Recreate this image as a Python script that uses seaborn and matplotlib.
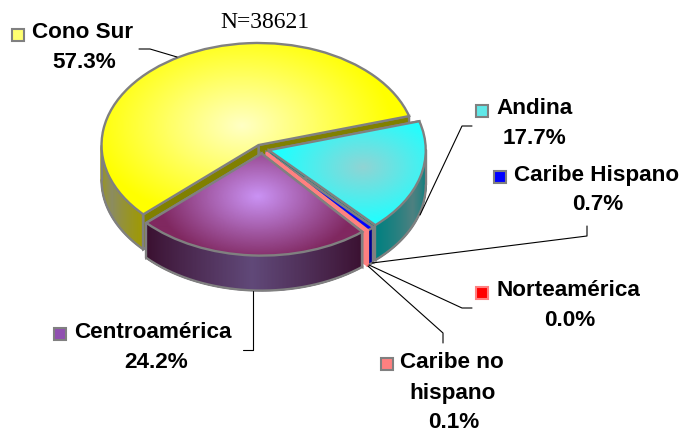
import matplotlib
matplotlib.use("Agg")
import matplotlib.pyplot as plt
import matplotlib.patches as mpatches
import numpy as np
import seaborn as sns

regions = ["Cono Sur", "Centroamérica", "Norteamérica", "Caribe no\nhispano", "Caribe Hispano", "Andina"]
shares = [57.3, 24.2, 0.0, 0.1, 0.7, 17.7]
total_n = 38621

# style per region, same order as above
face_edge = ["#FFFF00", "#802860", "#FF0000", "#FF8080", "#0000FF", "#20FFFF"]
face_mid = ["#FFFFC4", "#CA92F4", "#FF0000", "#FF8080", "#0000FF", "#90D4D4"]
wall_end = ["#A09A00", "#3A1030", "#800000", "#FF8080", "#000090", "#008080"]
wall_mid = ["#8C8C60", "#604878", "#800000", "#FF8080", "#000090", "#4E8080"]
cut_color = ["#808000", "#3A1030", "#800000", "#FF8080", "#000090", "#008080"]
key_color = ["#FFFF70", "#9050B0", "#FF0000", "#FF8080", "#0000FF", "#60E8E8"]
key_edge = ["#808080", "#808080", "#FF8080", "#808080", "#808080", "#808080"]
grad_pos = [0.22, 0.42, 0, 0, 0, 0.62]
grad_reach = [150, 100, 1, 1, 1, 85]

W, H = 681, 433
SQUASH = 0.65
RADIUS = 157
DEPTH = 35 / SQUASH
GREY = "#808080"

sns.set_theme(style="white")
plt.rcParams["font.family"] = ["Liberation Sans", "DejaVu Sans"]

fig = plt.figure(figsize=(W / 100, H / 100), dpi=100)
ax = fig.add_axes([0, 0, 1, 1])


def y_data(py):
    return (H - py) / SQUASH


wedges, _ = ax.pie(
    shares,
    startangle=16.5,
    radius=RADIUS,
    center=(262, y_data(149)),
    explode=[7] * len(shares),
    colors=face_edge,
)
ax.set_aspect("auto")
ax.set_xlim(0, W)
ax.set_ylim(0, H / SQUASH)
ax.axis("off")


def polar(wedge, angle, r=RADIUS):
    a = np.radians(angle)
    return wedge.center[0] + r * np.cos(a), wedge.center[1] + r * np.sin(a)


def draw_solid(i, z):
    w = wedges[i]
    th1, th2 = w.theta1, w.theta2
    line = face_edge[i] if i == 3 else GREY
    lw = 1.2 if i == 3 else 1.7

    # cut faces
    for th in (th1, th2):
        x, y = polar(w, th)
        cx, cy = w.center
        ax.add_patch(mpatches.Polygon(
            [(cx, cy), (x, y), (x, y - DEPTH), (cx, cy - DEPTH)],
            fc=cut_color[i], ec=line, lw=lw, zorder=z,
        ))

    # rim, only the part facing the viewer
    lo, hi = max(th1, 180), min(th2, 360)
    if hi > lo:
        steps = max(int(hi - lo) * 2, 2)
        angles = np.linspace(lo, hi, steps + 1)
        half = steps // 2 + 1
        ramp = sns.blend_palette([wall_end[i], wall_mid[i]], half)
        ramp = ramp + ramp[::-1]
        for k in range(steps):
            x0, y0 = polar(w, angles[k])
            x1, y1 = polar(w, angles[k + 1])
            ax.add_patch(mpatches.Polygon(
                [(x0, y0), (x1, y1), (x1, y1 - DEPTH), (x0, y0 - DEPTH)],
                fc=ramp[k], ec=ramp[k], lw=1.0, zorder=z + 0.1,
            ))
        xs, ys = zip(*[polar(w, a) for a in angles])
        xs = np.array(xs)
        ys = np.array(ys)
        ax.plot(xs, ys - DEPTH, color=line, lw=lw, zorder=z + 0.2)
        ax.plot([xs[0], xs[0]], [ys[0], ys[0] - DEPTH], color=line, lw=lw, zorder=z + 0.2)
        ax.plot([xs[-1], xs[-1]], [ys[-1], ys[-1] - DEPTH], color=line, lw=lw, zorder=z + 0.2)

    # top face with a soft radial shading
    w.set_zorder(z + 0.3)
    w.set_edgecolor("none")
    if grad_pos[i] > 0:
        mid = (th1 + th2) / 2
        gx, gy = polar(w, mid, grad_pos[i] * RADIUS)
        xx, yy = np.meshgrid(np.arange(0, W, 1.0), np.arange(0, H / SQUASH, 1.0))
        dist = np.hypot(xx - gx, yy - gy) / grad_reach[i]
        lut = np.array(sns.blend_palette([face_mid[i], face_edge[i]], 128))
        idx = np.clip(dist * 127, 0, 127).astype(int)
        im = ax.imshow(lut[idx], extent=(0, W, 0, H / SQUASH), origin="lower",
                       aspect="auto", zorder=z + 0.4)
        im.set_clip_path(w)
    ax.add_patch(mpatches.Wedge(w.center, RADIUS, th1, th2, fill=False,
                                ec=line, lw=lw, zorder=z + 0.5))


wedges[2].set_visible(False)
for z, i in enumerate([0, 5, 4, 3, 1]):
    draw_solid(i, 2 + z)
ax.set_xlim(0, W)
ax.set_ylim(0, H / SQUASH)

# overlay in picture pixels for labels and leader lines
top = fig.add_axes([0, 0, 1, 1], facecolor="none")
top.set_xlim(0, W)
top.set_ylim(H, 0)
top.axis("off")

leaders = [
    ([139, 150, 177], [49, 49, 57]),
    ([472, 462, 420], [126, 126, 215]),
    ([372, 587, 587], [263, 236, 226]),
    ([369, 462, 472], [265, 308, 308]),
    ([368, 443, 443], [266, 333, 343]),
    ([253, 253, 243], [291, 350, 350]),
]
for lx, ly in leaders:
    top.plot(lx, ly, color="black", lw=0.8)

label_style = dict(fontsize=16.2, fontweight="bold", color="black", va="center")
layout = [
    (0, 18, 35, 32, 33, 84, 63),
    (5, 482, 111, 496, 109, 534, 139),
    (4, 500, 177, 514, 175, 598, 205),
    (2, 482, 293, 496, 291, 570, 321),
    (1, 60, 334, 74, 333, 156, 363),
]
for i, kx, ky, tx, ty, vx, vy in layout:
    top.plot(kx, ky, marker="s", ms=9.3, mfc=key_color[i], mec=key_edge[i], mew=1.5)
    top.text(tx, ty, regions[i], ha="left", **label_style)
    top.text(vx, vy, f"{shares[i]:.1f}%", ha="center", **label_style)

first, second = regions[3].split("\n")
top.plot(387, 364, marker="s", ms=9.3, mfc=key_color[3], mec=key_edge[3], mew=1.5)
top.text(400, 363, first, ha="left", **label_style)
top.text(453, 393, second, ha="center", **label_style)
top.text(454, 423, f"{shares[3]:.1f}%", ha="center", **label_style)

top.text(265, 22, f"N={total_n}", ha="center", va="center", fontsize=17,
         family="Liberation Serif", color="black")

fig.savefig("out.png", dpi=100)
